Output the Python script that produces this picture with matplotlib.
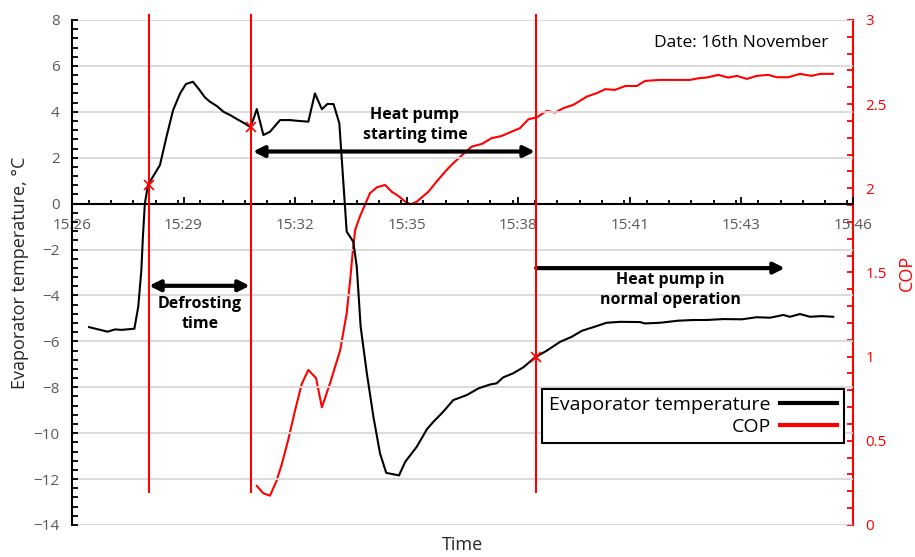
#!/usr/bin/env python3
"""
Evaporator temperature and COP during a defrost cycle (16th November).
"""
import matplotlib
matplotlib.use("Agg")
import matplotlib.pyplot as plt
from matplotlib.ticker import MultipleLocator, FixedLocator, FixedFormatter, FormatStrFormatter

# time in minutes past 15:00
temp_time = [27.08, 27.32, 27.56, 27.75, 27.92, 28.25, 28.35, 28.43, 28.47, 28.52, 28.60,
             28.91, 29.08, 29.25, 29.43, 29.58, 29.76, 29.90, 30.07, 30.20, 30.38, 30.55,
             30.72, 30.89, 31.06, 31.23, 31.30, 31.41, 31.58, 31.75, 32.01, 32.27, 32.44,
             32.74, 32.91, 33.09, 33.23, 33.39, 33.54, 33.73, 33.90, 33.99, 34.09, 34.25,
             34.42, 34.59, 34.75, 35.08, 35.24, 35.54, 35.80, 35.97, 36.22, 36.48, 36.83,
             37.13, 37.43, 37.60, 37.77, 38.03, 38.29, 38.59, 38.89, 39.24, 39.54, 39.80,
             40.10, 40.44, 40.79, 41.30, 41.43, 41.82, 42.29, 42.68, 43.02, 43.45, 43.93,
             44.31, 44.66, 45.00, 45.17, 45.43, 45.69, 45.99, 46.29]
temp_values = [-5.38, -5.48, -5.58, -5.48, -5.50, -5.45, -4.49, -2.90, -1.44, 0.00, 0.81,
               1.68, 2.92, 4.08, 4.80, 5.21, 5.31, 5.02, 4.63, 4.44, 4.25, 4.00,
               3.86, 3.69, 3.53, 3.35, 3.57, 4.12, 2.99, 3.13, 3.64, 3.64, 3.61,
               3.57, 4.80, 4.11, 4.34, 4.34, 3.50, -1.22, -1.66, -2.75, -5.36, -7.39,
               -9.29, -10.88, -11.73, -11.84, -11.25, -10.59, -9.83, -9.50, -9.07, -8.56, -8.34,
               -8.05, -7.88, -7.83, -7.57, -7.39, -7.13, -6.70, -6.41, -6.02, -5.80, -5.54,
               -5.38, -5.19, -5.15, -5.16, -5.22, -5.19, -5.10, -5.07, -5.07, -5.03, -5.04,
               -4.95, -4.97, -4.85, -4.93, -4.81, -4.93, -4.90, -4.93]

cop_time = [31.41, 31.58, 31.75, 31.91, 32.05, 32.22, 32.40, 32.57, 32.74, 32.94, 33.09,
            33.30, 33.56, 33.73, 33.82, 33.89, 33.95, 34.07, 34.20, 34.33, 34.51, 34.72,
            34.89, 35.06, 35.24, 35.38, 35.54, 35.84, 36.05, 36.31, 36.48, 36.74, 36.96,
            37.22, 37.47, 37.73, 37.95, 38.20, 38.42, 38.64, 38.89, 39.11, 39.32, 39.58,
            39.93, 40.18, 40.40, 40.66, 40.92, 41.22, 41.43, 41.82, 42.16, 42.59, 42.81,
            43.02, 43.32, 43.58, 43.80, 44.06, 44.31, 44.61, 44.83, 45.13, 45.43, 45.73,
            45.95, 46.28]
cop_values = [0.232, 0.188, 0.174, 0.257, 0.357, 0.505, 0.683, 0.838, 0.921, 0.872, 0.699,
              0.842, 1.036, 1.258, 1.456, 1.634, 1.753, 1.832, 1.901, 1.971, 2.006, 2.020,
              1.980, 1.955, 1.921, 1.905, 1.921, 1.980, 2.040, 2.109, 2.149, 2.204, 2.248,
              2.264, 2.298, 2.311, 2.333, 2.357, 2.410, 2.422, 2.460, 2.450, 2.476, 2.496,
              2.545, 2.565, 2.589, 2.585, 2.608, 2.608, 2.638, 2.644, 2.644, 2.644, 2.654,
              2.658, 2.674, 2.658, 2.668, 2.650, 2.668, 2.674, 2.660, 2.660, 2.680, 2.668,
              2.680, 2.680]

# defrost start, heat pump start, normal operation start
event_time = [28.62, 31.25, 38.61]
event_temp = [0.80, 3.35, -6.70]

x_start = 26.64
x_step = 2.88
x_labels = ["15:26", "15:29", "15:32", "15:35", "15:38", "15:41", "15:43", "15:46"]

plt.rcParams["font.family"] = ["Open Sans", "DejaVu Sans"]
grey = "#595959"

fig = plt.figure(figsize=(9.15, 5.57), dpi=100)
ax = fig.add_axes([0.0787, 0.0575, 0.8536, 0.9066])
ax2 = ax.twinx()

ax.set_zorder(ax2.get_zorder() + 1)
ax.patch.set_visible(False)

# horizontal gridlines
ax.set_ylim(-14, 8)
ax.yaxis.set_major_locator(MultipleLocator(2))
ax.yaxis.set_minor_locator(MultipleLocator(0.4))
ax.grid(axis="y", color="#d9d9d9", lw=1.3, zorder=0)
ax.set_axisbelow(True)

# curves
l1, = ax.plot(temp_time, temp_values, color="black", lw=1.5, zorder=4,
              label="Evaporator temperature")
l2, = ax2.plot(cop_time, cop_values, color="red", lw=1.5, zorder=3, label="COP")

for t in event_time:
    ax.plot([t, t], [-12.55, 8.22], color="red", lw=1.5, zorder=5, clip_on=False)
ax.plot(event_time, event_temp, "x", color="red", ms=7, mew=1.2, zorder=6, ls="none")

# x axis sits on y = 0
x_ticks = [x_start + x_step * i for i in range(len(x_labels))]
ax.set_xlim(x_ticks[0], x_ticks[-1])
ax.xaxis.set_major_locator(FixedLocator(x_ticks))
ax.xaxis.set_major_formatter(FixedFormatter(x_labels))
ax.xaxis.set_minor_locator(MultipleLocator(x_step / 5))
ax.spines["bottom"].set_position(("data", 0))
ax.spines["top"].set_visible(False)
ax.spines["right"].set_visible(False)
ax.spines["left"].set_linewidth(1.5)
ax.spines["bottom"].set_linewidth(1.5)

ax.tick_params(axis="x", which="major", direction="in", length=5, width=1.3,
               labelsize=11, labelcolor=grey, pad=10)
ax.tick_params(axis="x", which="minor", direction="in", length=3, width=1.3)
ax.tick_params(axis="y", which="both", direction="in", length=4, width=1.3,
               labelsize=11, labelcolor=grey, pad=9)

ax2.set_ylim(0, 3)
ax2.yaxis.set_major_locator(MultipleLocator(0.5))
ax2.yaxis.set_minor_locator(MultipleLocator(0.1))
ax2.yaxis.set_major_formatter(FormatStrFormatter("%g"))
for side in ["top", "bottom", "left"]:
    ax2.spines[side].set_visible(False)
ax2.spines["right"].set_color("red")
ax2.spines["right"].set_linewidth(1.5)
ax2.tick_params(axis="y", which="both", direction="in", length=4, width=1.3,
                color="red", labelsize=11, labelcolor="red", pad=9)

ax.set_ylabel("Evaporator temperature, \u00b0C", fontsize=13, color="#262626", labelpad=3)
ax2.set_ylabel("COP", fontsize=13, color="red", labelpad=8)
ax.set_xlabel("Time", fontsize=13, color="#262626", va="top")
ax.xaxis.set_label_coords(0.5, -0.021)

# event arrows and notes
arrow_kw = dict(arrowstyle="<|-|>", color="black", lw=3, mutation_scale=16,
                shrinkA=0, shrinkB=0)
ax.annotate("", xy=(38.59, 2.27), xytext=(31.31, 2.27), arrowprops=arrow_kw)
ax.annotate("", xy=(31.23, -3.58), xytext=(28.63, -3.58), arrowprops=arrow_kw)
ax.annotate("", xy=(45.04, -2.81), xytext=(38.62, -2.81),
            arrowprops=dict(arrow_kw, arrowstyle="-|>"))

note_kw = dict(ha="center", va="center", fontsize=11.5, fontweight="bold",
               linespacing=1.35, zorder=7)
ax.text(35.49, 3.42, "Heat pump\nstarting time", **note_kw)
ax.text(29.94, -4.81, "Defrosting\ntime", **note_kw)
ax.text(42.08, -3.76, "Heat pump in\nnormal operation", **note_kw)

ax.text(0.968, 0.954, "Date: 16th November", transform=ax.transAxes,
        ha="right", va="center", fontsize=12.5)

leg = ax.legend(handles=[l1, l2], loc="upper right", bbox_to_anchor=(0.988, 0.269),
                markerfirst=False, fontsize=14, handlelength=2.9, handletextpad=0.5,
                borderpad=0.35, labelspacing=0.2, borderaxespad=0, fancybox=False,
                framealpha=1, edgecolor="black")
leg.get_frame().set_linewidth(1.5)
for line in leg.get_lines():
    line.set_linewidth(3)
leg.set_zorder(10)

fig.savefig("out.png", dpi=100)
